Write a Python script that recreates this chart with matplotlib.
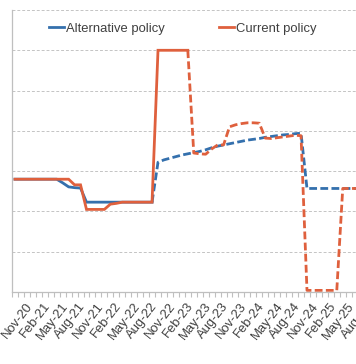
import matplotlib
matplotlib.use('Agg')
import matplotlib.pyplot as plt
import matplotlib.transforms as mtransforms
from matplotlib.ticker import FixedLocator

plt.rcParams['font.family'] = ['Liberation Sans', 'DejaVu Sans']

# monthly categories Nov-20 .. Sep-25
months = ['Nov-20', 'Dec-20', 'Jan-21', 'Feb-21', 'Mar-21', 'Apr-21', 'May-21', 'Jun-21',
          'Jul-21', 'Aug-21', 'Sep-21', 'Oct-21', 'Nov-21', 'Dec-21', 'Jan-22', 'Feb-22',
          'Mar-22', 'Apr-22', 'May-22', 'Jun-22', 'Jul-22', 'Aug-22', 'Sep-22', 'Oct-22',
          'Nov-22', 'Dec-22', 'Jan-23', 'Feb-23', 'Mar-23', 'Apr-23', 'May-23', 'Jun-23',
          'Jul-23', 'Aug-23', 'Sep-23', 'Oct-23', 'Nov-23', 'Dec-23', 'Jan-24', 'Feb-24',
          'Mar-24', 'Apr-24', 'May-24', 'Jun-24', 'Jul-24', 'Aug-24', 'Sep-24', 'Oct-24',
          'Nov-24', 'Dec-24', 'Jan-25', 'Feb-25', 'Mar-25', 'Apr-25', 'May-25', 'Jun-25',
          'Jul-25', 'Aug-25', 'Sep-25']

alternative = [2.80, 2.80, 2.80, 2.80, 2.80, 2.80, 2.80, 2.80, 2.71, 2.61, 2.59, 2.58,
               2.23, 2.23, 2.23, 2.23, 2.23, 2.23, 2.23, 2.23, 2.23, 2.23, 2.23, 2.23,
               3.22, 3.28, 3.32, 3.36, 3.40, 3.43, 3.46, 3.49, 3.53, 3.58, 3.62, 3.65,
               3.68, 3.71, 3.74, 3.77, 3.79, 3.81, 3.84, 3.86, 3.88, 3.90, 3.91, 3.93,
               3.94, 2.57, 2.57, 2.57, 2.57, 2.57, 2.57, 2.57, 2.57, 2.57, 2.57]

current = [2.80, 2.80, 2.80, 2.80, 2.80, 2.80, 2.80, 2.80, 2.80, 2.80, 2.66, 2.66,
           2.05, 2.05, 2.05, 2.05, 2.18, 2.20, 2.23, 2.23, 2.23, 2.23, 2.23, 2.23,
           6.00, 6.00, 6.00, 6.00, 6.00, 6.00, 3.45, 3.43, 3.42, 3.55, 3.65, 3.65,
           4.10, 4.15, 4.18, 4.20, 4.20, 4.19, 3.82, 3.81, 3.83, 3.85, 3.87, 3.89,
           3.88, 0.04, 0.04, 0.04, 0.04, 0.04, 0.04, 2.57, 2.57, 2.57, 2.57]

# last actual (solid) point of each series; forecast is dashed after it
alt_last_actual = 23
cur_last_actual = 29

blue = '#3470ad'
orange = '#df603d'

fig = plt.figure(figsize=(3.56, 3.64), dpi=100)
# axis runs on past the right edge of the picture (chart is cropped there)
ax = fig.add_axes([12 / 356, 72 / 364, 351.6 / 356, 282 / 364])

x = list(range(len(months)))
lw = 2.0
dash = (2.8, 1.2)

ax.plot(x[:alt_last_actual + 1], alternative[:alt_last_actual + 1], color=blue, lw=lw,
        label='Alternative policy', solid_joinstyle='miter')
ax.plot(x[alt_last_actual:], alternative[alt_last_actual:], color=blue, lw=lw,
        linestyle=(0, dash))
ax.plot(x[:cur_last_actual + 1], current[:cur_last_actual + 1], color=orange, lw=lw,
        label='Current policy', solid_joinstyle='miter')
ax.plot(x[cur_last_actual:], current[cur_last_actual:], color=orange, lw=lw,
        linestyle=(0, dash))

ax.set_xlim(-0.5, len(months) - 0.5)
ax.set_ylim(0, 7)
ax.set_yticks(range(0, 8))
ax.yaxis.grid(True, color='#c4c4c4', linestyle=(0, (3, 2)), linewidth=0.7)
ax.tick_params(axis='y', length=0, labelleft=False)

ax.xaxis.set_minor_locator(FixedLocator([i - 0.5 for i in range(len(months) + 1)]))
ax.set_xticks(x[::3])
ax.set_xticklabels(months[::3], rotation=52, ha='center', fontsize=9.4, color='#404040')
ax.tick_params(axis='x', which='major', length=0, pad=6)
ax.tick_params(axis='x', which='minor', length=3.5, color='#bfbfbf', width=0.8)
shift = mtransforms.ScaledTranslation(2 / 100, 0, fig.dpi_scale_trans)
for lab in ax.get_xticklabels():
    lab.set_transform(lab.get_transform() + shift)

for side in ['top', 'right']:
    ax.spines[side].set_visible(False)
for side in ['left', 'bottom']:
    ax.spines[side].set_color('#bfbfbf')
    ax.spines[side].set_linewidth(0.9)

leg = fig.legend(loc='center', bbox_to_anchor=(0.513, 0.921), ncol=2, frameon=False,
                 fontsize=9.4, handlelength=1.15, handletextpad=0.15, columnspacing=4.2)
for t in leg.get_texts():
    t.set_color('#404040')

fig.savefig('out.png', dpi=100)
